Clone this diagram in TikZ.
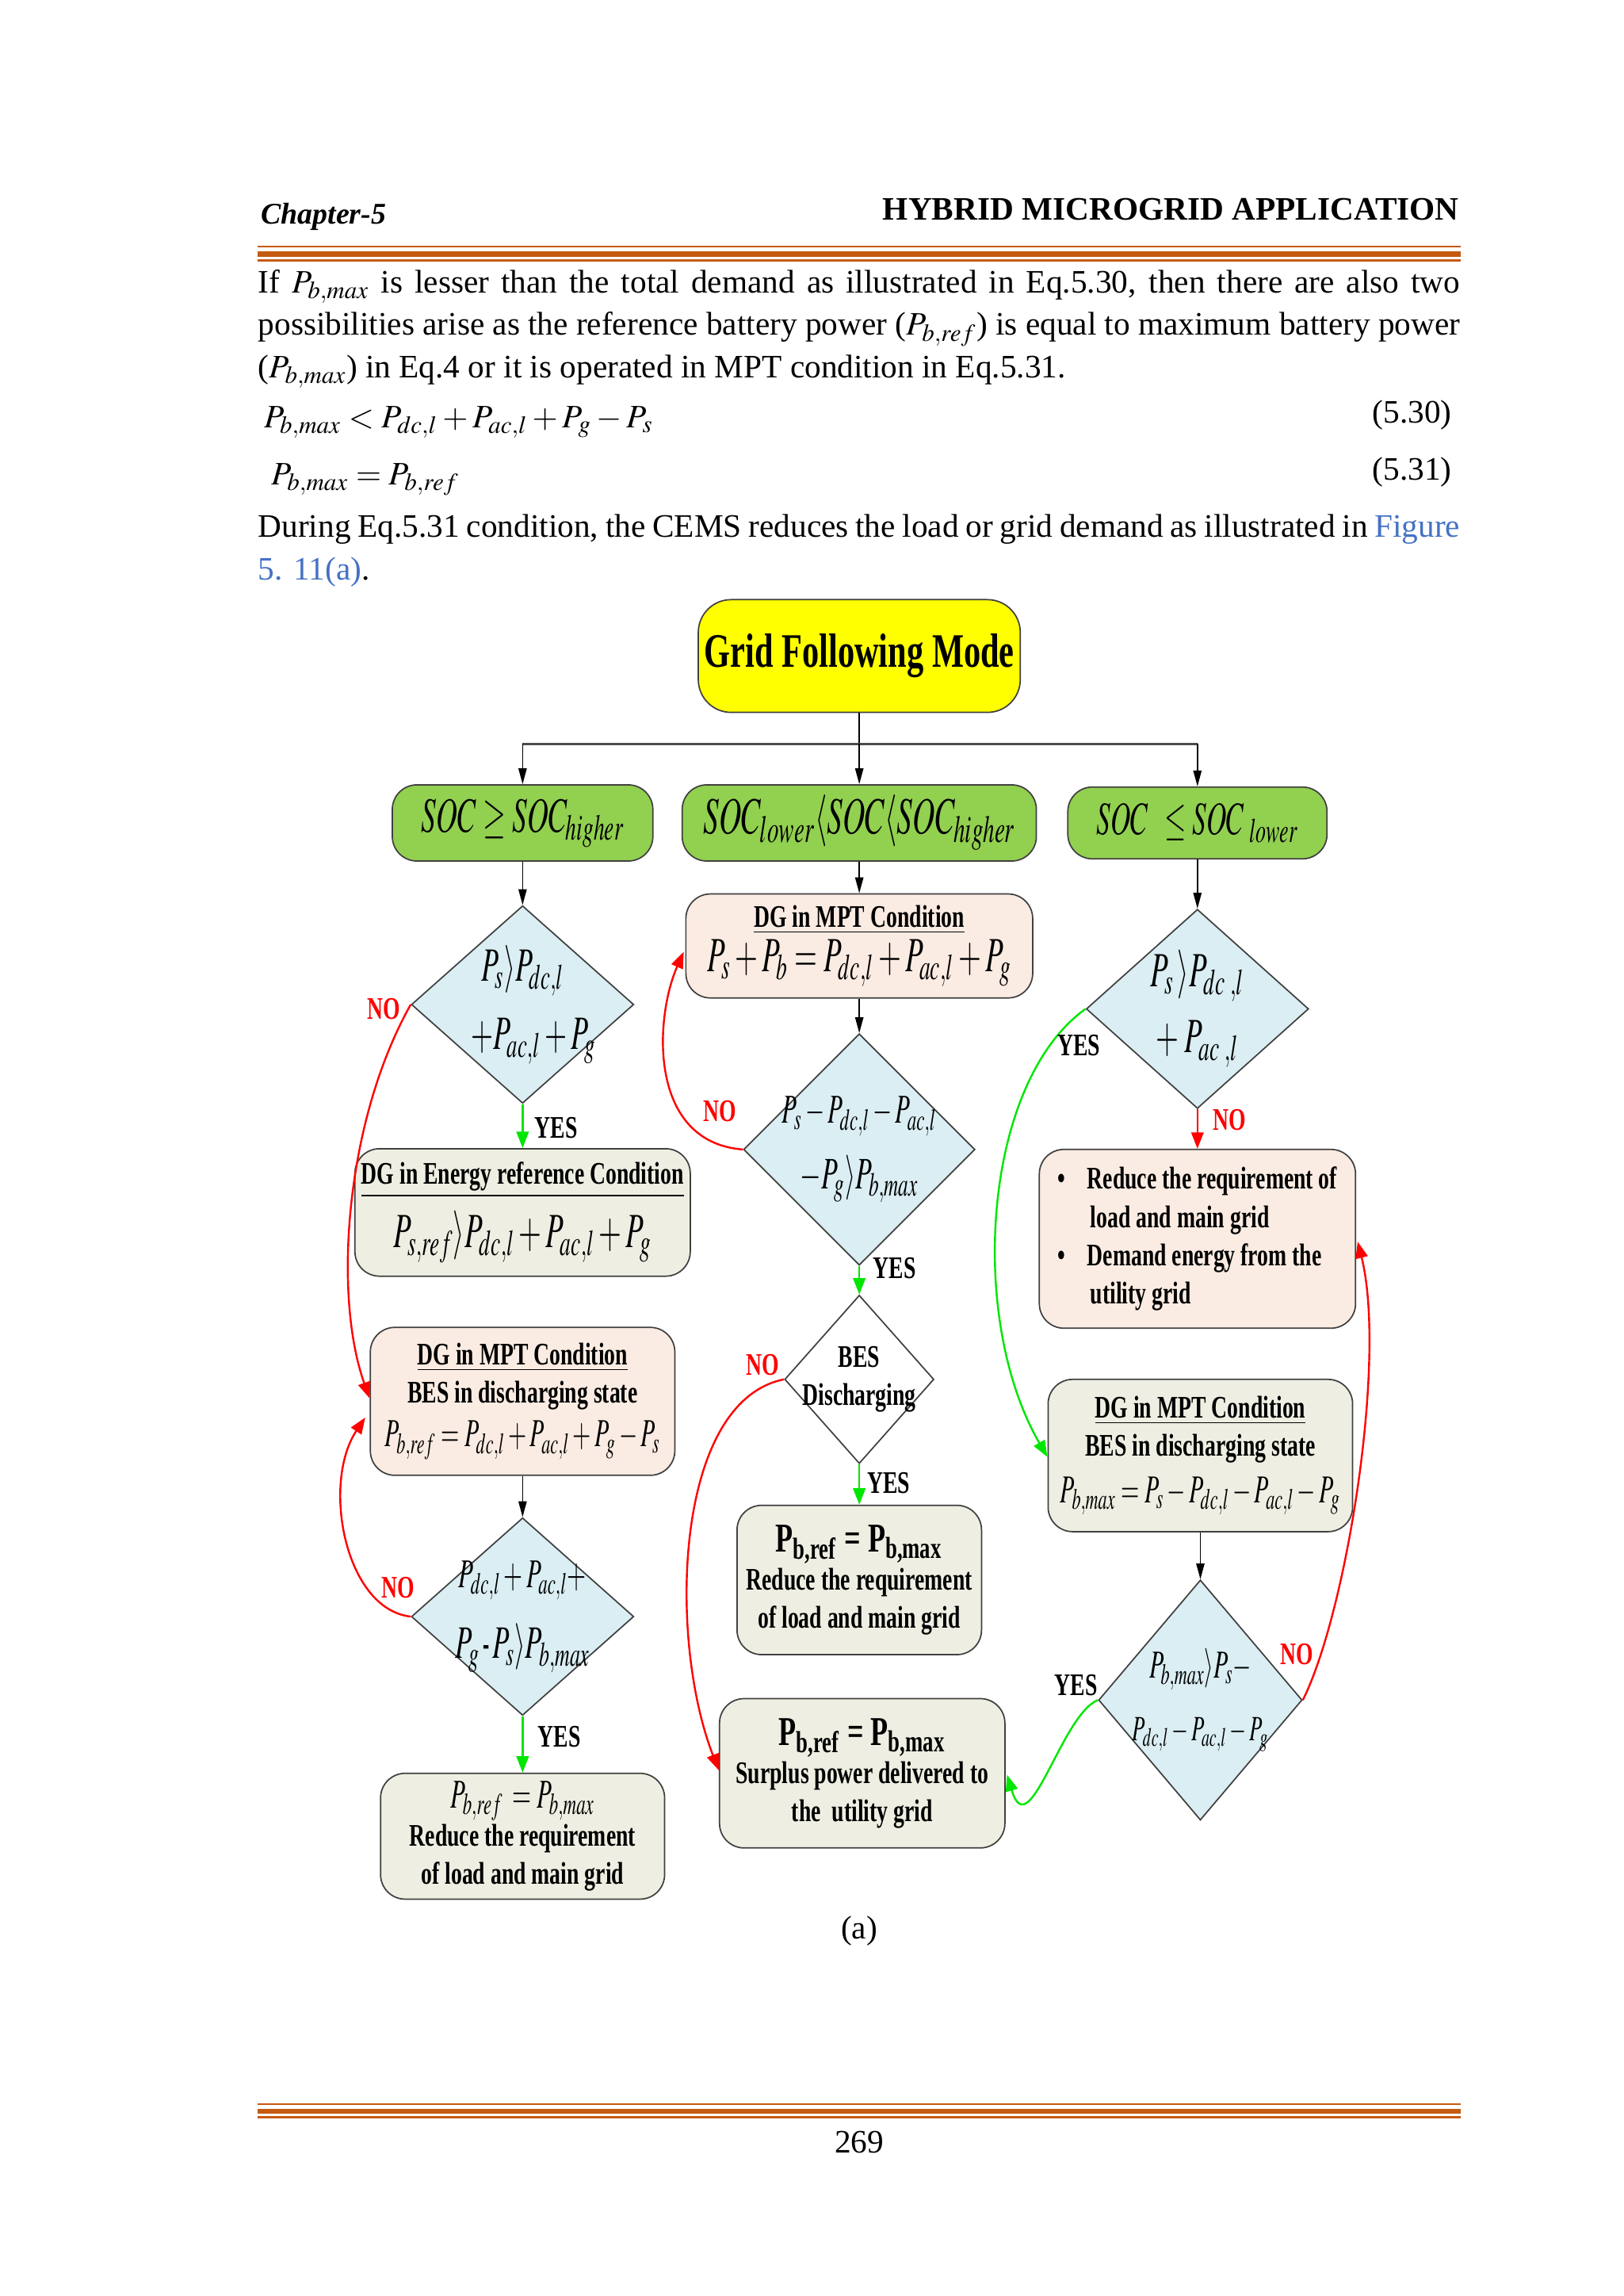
\documentclass[tikz,border=0pt]{standalone}
\usepackage{mathptmx}
\usepackage[no-math]{fontspec}
\setmainfont{Liberation Serif}
\newfontfamily\flowfont[FakeStretch=0.7]{Liberation Serif}
\usetikzlibrary{arrows.meta,calc,shapes.geometric}

\definecolor{ruleorange}{HTML}{C55A11}
\definecolor{linkblue}{HTML}{4472C4}
\definecolor{titleyellow}{HTML}{FFFF00}
\definecolor{socgreen}{HTML}{92D050}
\definecolor{peach}{HTML}{FBECE3}
\definecolor{olive}{HTML}{EEEEE2}
\definecolor{diablue}{HTML}{DAEEF3}
\definecolor{nored}{HTML}{FF0000}
\definecolor{yesgreen}{HTML}{00E600}

% squeezed math, as in the figure
\newcommand{\sq}[2][15]{\scalebox{0.6}[1]{\fontsize{#1}{#1}\selectfont$#2$}}

\begin{document}
\begin{tikzpicture}[x=0.5365pt,y=-0.5365pt,
  box/.style={draw=black!75,line width=0.5pt,rounded corners=9pt,inner sep=0pt,align=center,
    font=\flowfont\bfseries\fontsize{11.5}{14}\selectfont},
  soc/.style={box,fill=socgreen,minimum height=27.9pt},
  dia/.style={draw=black!75,line width=0.5pt,diamond,inner sep=0pt,fill=diablue},
  dtext/.style={align=center,inner sep=0pt,font=\flowfont\fontsize{12}{21}\selectfont},
  yes/.style={inner sep=0pt,font=\flowfont\bfseries\fontsize{11.5}{12}\selectfont},
  no/.style={yes,text=nored},
  blk/.style={-{Triangle[length=5.8pt,width=3pt]},line width=0.5pt},
  yarr/.style={-{Triangle[length=6pt,width=4.5pt]},draw=yesgreen,line width=0.7pt},
  narr/.style={-{Triangle[length=6pt,width=4.5pt]},draw=nored,line width=0.7pt},
  txt/.style={anchor=base west,inner sep=0pt,font=\fontsize{12}{14}\selectfont},
]
\useasboundingbox (0,0) rectangle (1109,1568);
\fill[white] (0,0) rectangle (1109,1568);

% page header and rules
\node[txt,font=\fontsize{11}{13}\selectfont\bfseries\itshape] (chap) at (178,153) {Chapter-5};
\node[txt,anchor=base east,font=\fontsize{12}{14}\selectfont\bfseries] (head) at (997,150) {HYBRID MICROGRID APPLICATION};
\draw[ruleorange,line width=0.7pt] (176,168.5) -- (998,168.5);
\draw[ruleorange,line width=1.8pt] (176,173.5) -- (998,173.5);
\draw[ruleorange,line width=0.9pt] (176,178) -- (998,178);

% body text
\node[txt] (l1) at (176,200) {\makebox[440.5pt][s]{If $P_{b,max}$ is lesser than the total demand as illustrated in Eq.5.30, then there are also two}};
\node[txt] (l2) at (176,229) {\makebox[440.5pt][s]{possibilities arise as the reference battery power ($P_{b,ref}$) is equal to maximum battery power}};
\node[txt] (l3) at (176,258) {($P_{b,max}$) in Eq.4 or it is operated in MPT condition in Eq.5.31.};
\node[txt] (eqa) at (180,292) {$P_{b,max} < P_{dc,l}+P_{ac,l}+P_g-P_s$};
\node[txt,anchor=base east] (eqan) at (992,289) {(5.30)};
\node[txt] (eqb) at (185,331) {$P_{b,max}=P_{b,ref}$};
\node[txt,anchor=base east] (eqbn) at (992,328) {(5.31)};
\node[txt] (l4) at (176,367) {\makebox[440.5pt][s]{During Eq.5.31 condition, the CEMS reduces the load or grid demand as illustrated in \textcolor{linkblue}{Figure}}};
\node[txt] (l5) at (176,396) {\textcolor{linkblue}{5. 11(a)}.};

% flowchart
\node[box,fill=titleyellow,minimum width=118pt,minimum height=41.3pt,rounded corners=12pt,
  font=\flowfont\bfseries\fontsize{17.6}{18}\selectfont] (title) at (587,448) {Grid Following Mode};

\node[soc,minimum width=95.5pt] (socL) at (357,562) {\sq[18]{SOC \geq SOC_{higher}}};
\node[soc,minimum width=129.8pt] (socM) at (587,562) {\sq[19]{SOC_{lower} \langle SOC \langle SOC_{higher}}};
\node[soc,minimum width=95pt,minimum height=26.3pt] (socR) at (818,562) {\sq[17]{SOC\ \ \leq SOC\ _{lower}}};

% left column
\node[dia,minimum width=81.5pt,minimum height=72.4pt] (d1) at (357,686) {};
\node[dtext] (d1t) at (d1) {\sq[17.5]{P_s \rangle P_{dc,l}}\\[4pt] \hspace{8pt}\sq[17.5]{+P_{ac,l}+P_g}};
\node[box,fill=olive,minimum width=122.9pt,minimum height=46.7pt] (emc) at (357,828)
  {\underline{DG in Energy reference Condition}\\[4pt] \sq[18]{P_{s,ref}\rangle P_{dc,l}+P_{ac,l}+P_g}};
\node[box,fill=peach,minimum width=111.6pt,minimum height=54.2pt] (mptL) at (357,957)
  {\underline{DG in MPT Condition}\\ BES in discharging state\\[2pt] \sq[14.5]{P_{b,ref}=P_{dc,l}+P_{ac,l}+P_g-P_s}};
\node[dia,minimum width=81.5pt,minimum height=72.4pt] (d2) at (357,1104) {};
\node[dtext] (d2t) at (d2) {\sq[15]{P_{dc,l}+P_{ac,l}+}\\[5pt] \sq[17]{P_g\,\mbox{-}\,P_s\rangle P_{b,max}}};
\node[box,fill=olive,minimum width=104.1pt,minimum height=46.1pt] (redL) at (357,1254)
  {\sq[15]{P_{b,ref}\ =P_{b,max}}\\ Reduce the requirement\\ of load and main grid};

% middle column
\node[box,fill=peach,minimum width=127.1pt,minimum height=38.1pt] (mptM) at (587,646)
  {\underline{DG in MPT Condition}\\[1pt] \sq[18]{P_s+P_b=P_{dc,l}+P_{ac,l}+P_g}};
\node[dia,minimum width=84.8pt,minimum height=84.8pt] (d3) at (587,785) {};
\node[dtext] (d3t) at (d3) {\sq[15]{P_s-P_{dc,l}-P_{ac,l}}\\[3pt] \sq[16.5]{-P_g\rangle P_{b,max}}};
\node[dia,fill=white,minimum width=54.7pt,minimum height=61.7pt] (d4) at (587,942) {};
\node[dtext,font=\flowfont\bfseries\fontsize{11.5}{14}\selectfont] (d4t) at (d4) {BES\\ Discharging};
\node[box,fill=olive,minimum width=89.6pt,minimum height=54.7pt] (redM) at (587,1079)
  {{\fontsize{15}{16}\selectfont P\textsubscript{b,ref} = P\textsubscript{b,max}}\\ Reduce the requirement\\ of load and main grid};
\node[box,fill=olive,minimum width=104.6pt,minimum height=54.7pt] (surp) at (589,1211)
  {{\fontsize{15}{16}\selectfont P\textsubscript{b,ref} = P\textsubscript{b,max}}\\ Surplus power delivered to\\ the\ \ utility grid};

% right column
\node[dia,minimum width=81.5pt,minimum height=73pt] (d5) at (818,689) {};
\node[dtext] (d5t) at (d5) {\sq[18]{P_s\,\rangle P_{dc\ ,l}}\\[3pt] \sq[18]{+\ P_{ac\ ,l}}};
\node[box,fill=peach,minimum width=115.9pt,minimum height=65.5pt,align=left] (bul) at (818,846)
  {\textbullet\hspace{8pt}Reduce the requirement of\\ \hspace{12pt}load and main grid\\
   \textbullet\hspace{8pt}Demand energy from the\\ \hspace{12pt}utility grid};
\node[box,fill=olive,minimum width=111.6pt,minimum height=55.8pt] (mptR) at (820,994)
  {\underline{DG in MPT Condition}\\ BES in discharging state\\[3pt] \sq[14.5]{P_{b,max}=P_s-P_{dc,l}-P_{ac,l}-P_g}};
\node[dia,minimum width=74.6pt,minimum height=88pt] (d6) at (820,1161) {};
\node[dtext] (d6t) at (d6) {\sq[14.5]{P_{b,max}\rangle P_s -}\\[2pt] \sq[13]{P_{dc,l}-P_{ac,l}-P_g}};

% straight connectors
\coordinate (jn) at (587,508);
\draw[line width=0.5pt] (title) -- (jn);
\draw[line width=0.8pt,black!70] (socL.north |- jn) -- (socR.north |- jn);
\draw[blk] (socL.north |- jn) -- (socL);
\draw[blk] (jn) -- (socM);
\draw[blk] (socR.north |- jn) -- (socR);
\draw[blk] (socL) -- (d1);
\draw[blk] (socM) -- (mptM);
\draw[blk] (socR) -- (d5);
\draw[yarr] (d1) -- (emc);
\draw[blk] (mptL) -- (d2);
\draw[yarr] (d2) -- (redL);
\draw[blk] (mptM) -- (d3);
\draw[yarr] (d3) -- (d4);
\draw[yarr] (d4) -- (redM);
\draw[narr] (d5) -- (bul);
\draw[blk] (mptR) -- (d6);

% curved connectors
\draw[narr] (d1.west) .. controls +(-45,80) and +(-25,-70) .. ($(mptL.west)+(0,-2)$);
\draw[narr] (d2.west) .. controls +(-45,-5) and +(-30,45) .. ($(mptL.west)+(-3,11)$);
\draw[narr] (d3.west) .. controls +(-65,-5) and +(-20,45) .. ($(mptM.west)+(-1,4)$);
\draw[narr] (d4.west) .. controls +(-75,15) and +(-35,-90) .. ($(surp.west)+(0,-2)$);
\draw[yarr] (d5.west) .. controls +(-70,50) and +(-55,-95) .. ($(mptR.west)+(0,1)$);
\draw[yarr] (d6.west) .. controls +(-25,10) and +(15,50) .. ($(surp.east)+(1,1)$);
\draw[narr] (d6.east) .. controls +(30,-60) and +(20,80) .. ($(bul.east)+(1,2)$);

% branch labels
\node[no] (n1) at (262,689) {NO};
\node[yes] (y1) at (380,770) {YES};
\node[no] (n3) at (492,759) {NO};
\node[yes] (y3) at (611,866) {YES};
\node[no] (n4) at (521,932) {NO};
\node[yes] (y4) at (607,1013) {YES};
\node[no] (n2) at (272,1084) {NO};
\node[yes] (y2) at (382,1186) {YES};
\node[yes] (y5) at (737,714) {YES};
\node[no] (n5) at (840,765) {NO};
\node[yes] (y6) at (735,1151) {YES};
\node[no] (n6) at (886,1130) {NO};

% caption, footer
\node[txt,anchor=base] (cap) at (587,1324) {(a)};
\draw[ruleorange,line width=0.8pt] (176,1437) -- (998,1437);
\draw[ruleorange,line width=1.8pt] (176,1441.7) -- (998,1441.7);
\draw[ruleorange,line width=0.8pt] (176,1446) -- (998,1446);
\node[txt,anchor=base] (pg) at (587,1470) {269};
\end{tikzpicture}
\end{document}
